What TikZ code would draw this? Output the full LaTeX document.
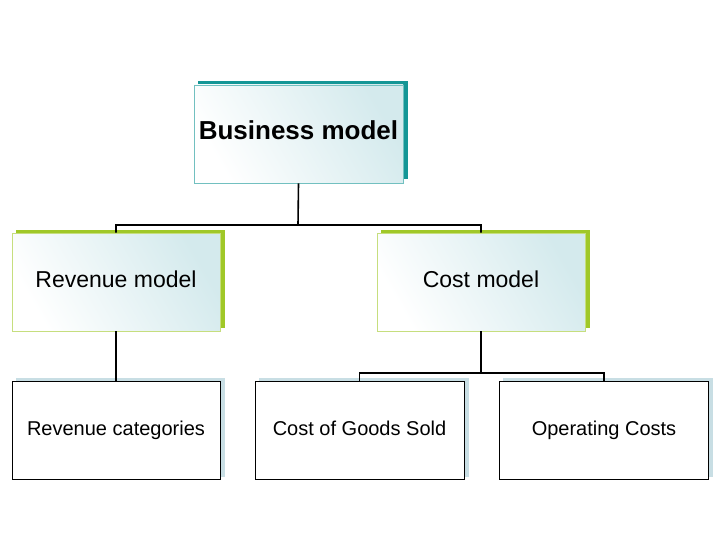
\documentclass[tikz,border=0pt]{standalone}
\usepackage{fontspec}
\setmainfont{Liberation Sans}
\begin{document}
\begin{tikzpicture}[x=1pt,y=-1pt,
 box/.style={draw=#1,line width=0.8pt,minimum width=208pt,minimum height=98pt,inner sep=0pt,
   left color=white,right color={rgb,255:red,212;green,234;blue,237},shading angle=120},
 plain/.style={draw=black,line width=0.8pt,fill=white,minimum width=208pt,minimum height=98pt,inner sep=0pt},
 conn/.style={line width=1.6pt}]
\useasboundingbox (0,0) rectangle (720,540);
\definecolor{teal1}{RGB}{20,150,150}
\definecolor{green1}{RGB}{160,200,40}
\definecolor{lblue}{RGB}{200,222,228}
% shadows
\fill[teal1] (198,81) rectangle (408,179);
\fill[green1] (16,230) rectangle (225,328);
\fill[green1] (381,230) rectangle (590,328);
\fill[lblue] (16,378) rectangle (225,477);
\fill[lblue] (259,378) rectangle (469,477);
\fill[lblue] (503,378) rectangle (713,477);
\node[box=teal1!60,minimum width=209pt] (bm) at (298.5,134) {\fontsize{26}{30}\selectfont\bfseries Business model\strut};
\node[box=green1!60] (rm) at (116,282) {\fontsize{23}{27}\selectfont Revenue model\strut};
\node[box=green1!60] (cm) at (481,282) {\fontsize{23}{27}\selectfont Cost model\strut};
\node[plain] (rc) at (116,430.5) {\fontsize{20}{24}\selectfont Revenue categories\strut};
\node[plain,minimum width=209pt] (cg) at (359.5,430.5) {\fontsize{20}{24}\selectfont Cost of Goods Sold\strut};
\node[plain,minimum width=209pt] (oc) at (604,430.5) {\fontsize{20}{24}\selectfont Operating Costs\strut};
\coordinate (j1) at (298,225);
\coordinate (j2) at (481,373);
\draw[conn] (bm.south) -- (j1) (rm.north) |- (j1) -| (cm.north);
\draw[line width=2.5pt] (rm.south) -- (rc.north);
\draw[conn] (cm.south) -- (j2) (cg.north) |- (j2) -| (oc.north);
\end{tikzpicture}
\end{document}
